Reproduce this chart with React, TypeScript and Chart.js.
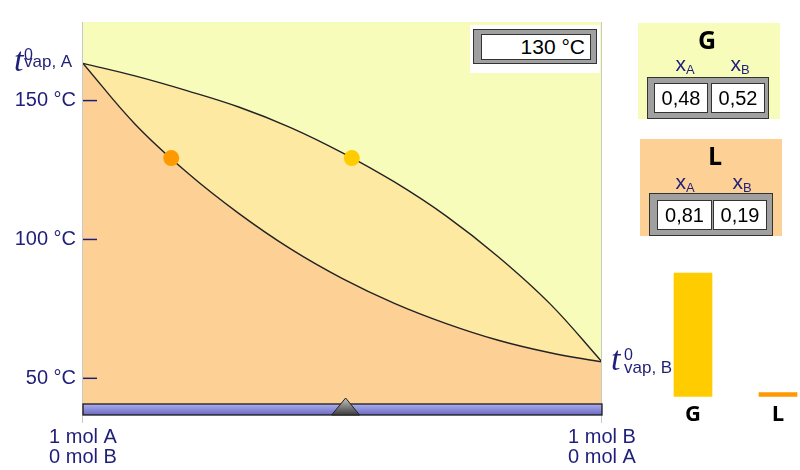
import React, { useEffect, useRef } from "react";
import { Chart, registerables } from "chart.js";
Chart.register(...registerables);

// ---- data ----
const compositionXB = [0, 0.1, 0.2, 0.3, 0.4, 0.5, 0.6, 0.7, 0.8, 0.9, 1];
const dewTemps = [163.4, 158.9, 153.6, 147.7, 140.3, 131.2, 120.7, 108.4, 93.8, 76.8, 55.9];
const bubbleTemps = [163.4, 141.6, 124.2, 109.4, 96.6, 85.9, 77.0, 69.7, 63.7, 59.2, 55.9];
const gasPointXB = [0.518];
const liquidPointXB = [0.17];
const tieLineTemp = [129.3];
const overallXB = [0.506];
const yTickValues = [50, 100, 150];
const xTickValues = [0, 1];
const xTickLabels = [
  ["1 mol A", "0 mol B"],
  ["1 mol B", "0 mol A"],
];
const temperatureText = "130 °C";
const phaseLabels = ["G", "L"];
const phaseAmounts = [0.965, 0.03];
const gasComposition = ["0,48", "0,52"];
const liquidComposition = ["0,81", "0,19"];
const yRange = [40.75, 178.3];

const NAVY = "#1f1f7a";
const SANS = "'Liberation Sans', Arial, sans-serif";
const C_TOP = "#F7FCBB";
const C_MID = "#FDE9A2";
const C_LOW = "#FDD096";

const decorPlugin = {
  id: "decor",
  beforeDatasetsDraw(chart: any) {
    const { ctx, chartArea: a } = chart;
    ctx.save();
    ctx.fillStyle = C_TOP;
    ctx.fillRect(a.left, a.top, a.right - a.left, a.bottom - a.top);
    ctx.restore();
  },
  afterDatasetsDraw(chart: any) {
    const { ctx, chartArea: a, scales } = chart;
    const xs = scales.x;
    const ys = scales.y;
    ctx.save();
    // side borders
    ctx.strokeStyle = "#c8c8c8";
    ctx.lineWidth = 1;
    xTickValues.forEach((v) => {
      const px = Math.round(xs.getPixelForValue(v)) - 0.5;
      ctx.beginPath();
      ctx.moveTo(px, a.top);
      ctx.lineTo(px, a.bottom + 19);
      ctx.stroke();
    });
    // y tick marks (inside)
    ctx.strokeStyle = NAVY;
    ctx.lineWidth = 1.5;
    yTickValues.forEach((v) => {
      const py = ys.getPixelForValue(v);
      ctx.beginPath();
      ctx.moveTo(a.left, py);
      ctx.lineTo(a.left + 14, py);
      ctx.stroke();
    });
    // slider bar
    const x0 = xs.getPixelForValue(0);
    const x1 = xs.getPixelForValue(1);
    const st = a.bottom;
    const sb = a.bottom + 11;
    const g = ctx.createLinearGradient(0, st, 0, sb);
    g.addColorStop(0, "#aeaef0");
    g.addColorStop(1, "#6a6ac2");
    ctx.fillStyle = g;
    ctx.fillRect(x0, st, x1 - x0, sb - st);
    ctx.strokeStyle = "#1a1a1a";
    ctx.lineWidth = 1.3;
    ctx.strokeRect(x0, st, x1 - x0, sb - st);
    // triangle marker
    const cx = xs.getPixelForValue(overallXB[0]);
    const tg = ctx.createLinearGradient(0, st - 6, 0, sb);
    tg.addColorStop(0, "#c4c4c4");
    tg.addColorStop(1, "#3c3c3c");
    ctx.beginPath();
    ctx.moveTo(cx, st - 6);
    ctx.lineTo(cx - 14, sb);
    ctx.lineTo(cx + 14, sb);
    ctx.closePath();
    ctx.fillStyle = tg;
    ctx.fill();
    ctx.strokeStyle = "#222";
    ctx.lineWidth = 1;
    ctx.stroke();
    // t0 vap labels
    ctx.fillStyle = NAVY;
    ctx.textBaseline = "alphabetic";
    ctx.textAlign = "left";
    const ax = xs.getPixelForValue(0);
    const ay = ys.getPixelForValue(dewTemps[0]);
    const bx = xs.getPixelForValue(1);
    const by = ys.getPixelForValue(dewTemps[dewTemps.length - 1]);
    const drawT = (tx: number, ty: number, sx: number, supY: number, subY: number, sub: string) => {
      ctx.font = "italic 34px 'Liberation Serif', serif";
      ctx.fillText("t", tx, ty);
      ctx.font = "16px " + SANS;
      ctx.fillText("0", sx, supY);
      ctx.font = "17px " + SANS;
      ctx.fillText(sub, sx, subY);
    };
    drawT(ax - 69, ay + 8, ax - 59, ay - 3, ay + 3.5, "vap, A");
    drawT(bx + 9, by + 8, bx + 22, by - 2, by + 11, "vap, B");
    ctx.restore();
  },
};

function MainChart() {
  const ref = useRef<HTMLCanvasElement>(null);
  useEffect(() => {
    const toPts = (temps: number[]) => compositionXB.map((x, i) => ({ x, y: temps[i] }));
    const chart = new Chart(ref.current!, {
      type: "line",
      data: {
        datasets: [
          {
            data: liquidPointXB.map((x) => ({ x, y: tieLineTemp[0] })),
            showLine: false,
            pointRadius: 8,
            pointBackgroundColor: "#FF9900",
            pointBorderWidth: 0,
            borderWidth: 0,
          },
          {
            data: gasPointXB.map((x) => ({ x, y: tieLineTemp[0] })),
            showLine: false,
            pointRadius: 8,
            pointBackgroundColor: "#FFCC00",
            pointBorderWidth: 0,
            borderWidth: 0,
          },
          {
            data: toPts(bubbleTemps),
            borderColor: "#222",
            borderWidth: 1.4,
            pointRadius: 0,
            tension: 0.4,
            fill: "start",
            backgroundColor: C_LOW,
          },
          {
            data: toPts(dewTemps),
            borderColor: "#222",
            borderWidth: 1.4,
            pointRadius: 0,
            tension: 0.4,
            fill: "start",
            backgroundColor: C_MID,
          },
        ],
      } as any,
      options: {
        animation: false,
        responsive: false,
        devicePixelRatio: 1,
        layout: { padding: { top: 22, right: 198, left: 0, bottom: 0 } },
        plugins: { legend: { display: false }, tooltip: { enabled: false } },
        events: [],
        scales: {
          x: {
            type: "linear",
            min: 0,
            max: 1,
            grid: { display: false, drawTicks: false },
            border: { display: false },
            afterBuildTicks: (axis: any) => {
              axis.ticks = xTickValues.map((v) => ({ value: v }));
            },
            afterFit: (s: any) => {
              s.height = 66;
            },
            ticks: {
              autoSkip: false,
              maxRotation: 0,
              minRotation: 0,
              padding: 24,
              color: NAVY,
              font: { size: 20, family: SANS, lineHeight: 0.98 },
              callback: (_v: any, i: number) => xTickLabels[i],
            },
          },
          y: {
            type: "linear",
            min: yRange[0],
            max: yRange[1],
            grid: { display: false, drawTicks: false },
            border: { display: false },
            afterBuildTicks: (axis: any) => {
              axis.ticks = yTickValues.map((v) => ({ value: v }));
            },
            afterFit: (s: any) => {
              s.width = 83;
            },
            ticks: {
              padding: 7,
              color: NAVY,
              font: { size: 20, family: SANS },
              callback: (v: any) => `${v} °C`,
            },
          },
        },
      } as any,
      plugins: [decorPlugin],
    });
    return () => chart.destroy();
  }, []);
  return (
    <canvas
      ref={ref}
      width={800}
      height={470}
      style={{ position: "absolute", left: 0, top: 0, width: 800, height: 470 }}
    />
  );
}

function AmountChart() {
  const ref = useRef<HTMLCanvasElement>(null);
  useEffect(() => {
    const chart = new Chart(ref.current!, {
      type: "bar",
      data: {
        labels: phaseLabels,
        datasets: [
          {
            data: phaseAmounts,
            backgroundColor: ["#FFCC00", "#FF9900"],
            borderWidth: 0,
            barThickness: 38,
            clip: false,
          },
        ],
      } as any,
      options: {
        animation: false,
        responsive: false,
        devicePixelRatio: 1,
        events: [],
        layout: { padding: { top: 8.5, left: 53, right: 22, bottom: 0 } },
        plugins: { legend: { display: false }, tooltip: { enabled: false } },
        scales: {
          x: {
            type: "category",
            offset: false,
            grid: { display: false, drawTicks: false },
            border: { display: false },
            afterFit: (s: any) => {
              s.height = 33.5;
            },
            ticks: {
              padding: 6,
              color: "#000",
              font: { size: 22, weight: "bold", family: "'Open Sans', sans-serif", lineHeight: 1.1 },
            },
          },
          y: { display: false, min: 0, max: 1 },
        },
      } as any,
    });
    return () => chart.destroy();
  }, []);
  return (
    <canvas
      ref={ref}
      width={160}
      height={170}
      style={{ position: "absolute", left: 640, top: 260, width: 160, height: 170 }}
    />
  );
}

const abs = (l: number, t: number, w: number, h: number, extra: React.CSSProperties = {}): React.CSSProperties => ({
  position: "absolute",
  left: l,
  top: t,
  width: w,
  height: h,
  boxSizing: "border-box",
  ...extra,
});

function XLabel({ cx, cy, sub }: { cx: number; cy: number; sub: string }) {
  return (
    <div
      style={abs(cx - 25, cy - 14, 50, 26, {
        textAlign: "center",
        color: NAVY,
        fontFamily: SANS,
        fontSize: 21,
        lineHeight: "26px",
        whiteSpace: "nowrap",
      })}
    >
      x<span style={{ fontSize: 13, position: "relative", top: 3 }}>{sub}</span>
    </div>
  );
}

function Cell({ l, t, w, h, text }: { l: number; t: number; w: number; h: number; text: string }) {
  return (
    <div
      style={abs(l, t, w, h, {
        background: "#fff",
        border: "1px solid #333",
        fontFamily: SANS,
        fontSize: 20,
        lineHeight: `${h - 2}px`,
        textAlign: "center",
        color: "#000",
      })}
    >
      {text}
    </div>
  );
}

function Panels() {
  const head = (cx: number, cy: number, t: string) => (
    <div
      style={abs(cx - 20, cy - 16, 40, 32, {
        textAlign: "center",
        fontFamily: "'Open Sans', sans-serif",
        fontWeight: 700,
        fontSize: 25,
        lineHeight: "32px",
        color: "#000",
      })}
    >
      {t}
    </div>
  );
  return (
    <>
      {/* temperature display */}
      <div style={abs(470, 25, 130, 48, { background: "#fff" })} />
      <div style={abs(473, 29, 124, 35, { background: "#a0a0a0", border: "1px solid #333" })} />
      <div
        style={abs(481, 34, 110, 26, {
          background: "#fff",
          border: "1px solid #333",
          fontFamily: SANS,
          fontSize: 21,
          lineHeight: "24px",
          textAlign: "right",
          paddingRight: 5,
          color: "#000",
        })}
      >
        {temperatureText}
      </div>

      {/* G panel */}
      <div style={abs(638, 23, 142, 96, { background: C_TOP })} />
      {head(707, 39, "G")}
      <XLabel cx={685} cy={65} sub="A" />
      <XLabel cx={740} cy={65} sub="B" />
      <div style={abs(647, 77, 122, 42, { background: "#a0a0a0", border: "1px solid #333" })} />
      <Cell l={654} t={83} w={54} h={30} text={gasComposition[0]} />
      <Cell l={711} t={83} w={54} h={30} text={gasComposition[1]} />

      {/* L panel */}
      <div style={abs(640, 139, 142, 97, { background: C_LOW })} />
      {head(715, 155, "L")}
      <XLabel cx={685} cy={183} sub="A" />
      <XLabel cx={742} cy={183} sub="B" />
      <div style={abs(649, 193, 124, 43, { background: "#a0a0a0", border: "1px solid #333" })} />
      <Cell l={657} t={200} w={55} h={30} text={liquidComposition[0]} />
      <Cell l={713} t={200} w={54} h={30} text={liquidComposition[1]} />
    </>
  );
}

export default function App() {
  return (
    <div style={{ position: "absolute", left: 0, top: 0, width: 800, height: 470, background: "#fff", overflow: "hidden" }}>
      <MainChart />
      <AmountChart />
      <Panels />
    </div>
  );
}
